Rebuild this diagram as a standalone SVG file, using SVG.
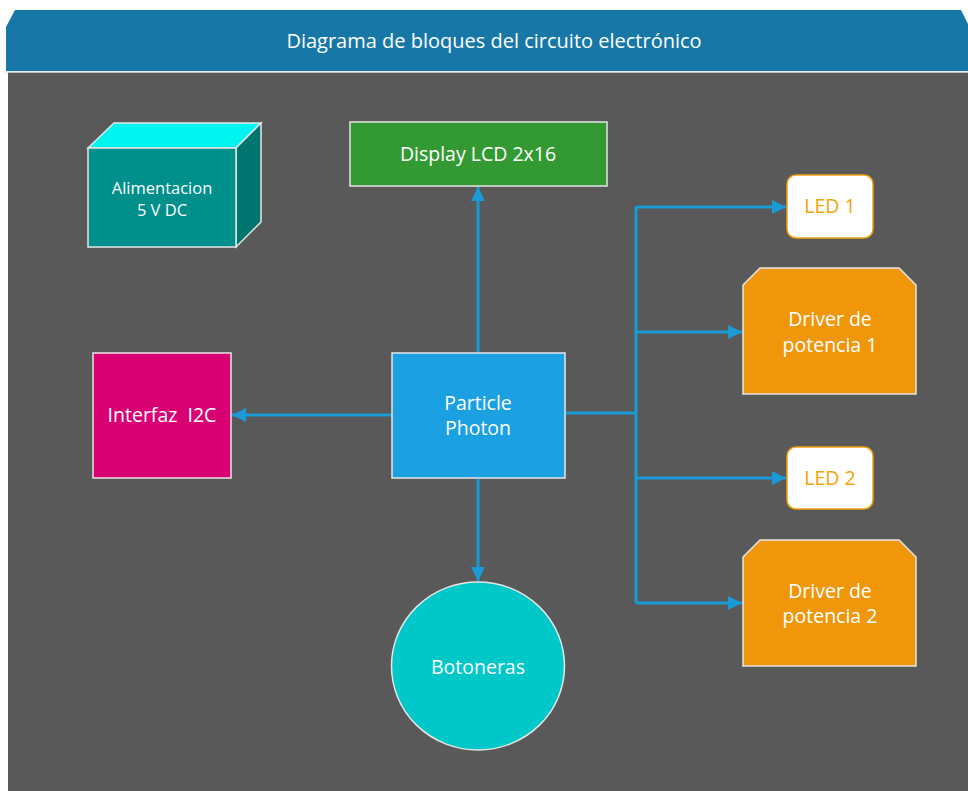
<svg xmlns="http://www.w3.org/2000/svg" width="968" height="791" viewBox="0 0 968 791">
<defs>
<style>
text{font-family:"Open Sans","Noto Sans","DejaVu Sans",sans-serif;fill:#ffffff;text-anchor:middle;dominant-baseline:central}
.node{stroke:#e6e6e6;stroke-width:1.5}
.conn{fill:none;stroke:#1b9ad8;stroke-width:3}
.lbl{font-size:19.5px}
.led{fill:#ffffff;stroke:#f0a30a;stroke-width:1.5}
.ledt{fill:#f0a30a;font-size:19.5px}
.drv{fill:#f0960a}
</style>
<marker id="arr" markerUnits="userSpaceOnUse" markerWidth="16" markerHeight="14" refX="14" refY="7" orient="auto">
<path d="M0,0 L14,7 L0,14 Z" fill="#1b9ad8"/>
</marker>
</defs>
<rect x="0" y="0" width="968" height="791" fill="#ffffff"/>
<rect x="8" y="72" width="960" height="719" fill="#595959"/>
<g id="header">
<path d="M15,10 L961,10 L968,24 L968,71 L6,71 L6,27 Z" fill="#1778a8"/>
<line x1="6" y1="72" x2="968" y2="72" stroke="#d8e8f0" stroke-width="1.5"/>
<text x="494" y="40" font-size="20">Diagrama de bloques del circuito electrónico</text>
</g>
<g id="connectors">
<line class="conn" x1="478" y1="352" x2="478" y2="187" marker-end="url(#arr)"/>
<line class="conn" x1="392" y1="415" x2="232" y2="415" marker-end="url(#arr)"/>
<line class="conn" x1="478" y1="479" x2="478" y2="581" marker-end="url(#arr)"/>
<polyline class="conn" points="566,413 636,413"/>
<line class="conn" x1="636" y1="207" x2="636" y2="603"/>
<line class="conn" x1="636" y1="207" x2="786" y2="207" marker-end="url(#arr)"/>
<line class="conn" x1="636" y1="332" x2="742" y2="332" marker-end="url(#arr)"/>
<line class="conn" x1="636" y1="478" x2="786" y2="478" marker-end="url(#arr)"/>
<line class="conn" x1="636" y1="603" x2="742" y2="603" marker-end="url(#arr)"/>
</g>
<g id="alimentacion">
<path class="node" d="M88,148 L114,123 L261,123 L236,148 Z" fill="#00f5f0"/>
<path class="node" d="M236,148 L261,123 L261,222 L236,247 Z" fill="#00756f"/>
<rect class="node" x="88" y="148" width="148" height="99" fill="#008f8a"/>
<text x="162" y="187" font-size="16.5">Alimentacion</text>
<text x="162" y="209" font-size="16.5">5 V DC</text>
</g>
<g id="display">
<rect class="node" x="350" y="122" width="257" height="64" fill="#339a33"/>
<text class="lbl" x="478" y="153">Display LCD 2x16</text>
</g>
<g id="photon">
<rect class="node" x="392" y="353" width="173" height="125" fill="#1ba1e2"/>
<text class="lbl" x="478" y="402">Particle</text>
<text class="lbl" x="478" y="427">Photon</text>
</g>
<g id="i2c">
<rect class="node" x="93" y="353" width="138" height="125" fill="#d80073"/>
<text class="lbl" x="162" y="414" xml:space="preserve">Interfaz  I2C</text>
</g>
<g id="botoneras">
<ellipse class="node" cx="478" cy="666" rx="86.5" ry="84" fill="#00c8c8"/>
<text class="lbl" x="478" y="666">Botoneras</text>
</g>
<g id="led1">
<rect class="led" x="787" y="175" width="86" height="63" rx="9"/>
<text class="ledt" x="830" y="205">LED 1</text>
</g>
<g id="driver1">
<path class="node drv" d="M760,268 L899,268 L916,285 L916,394 L743,394 L743,285 Z"/>
<text class="lbl" x="830" y="318">Driver de</text>
<text class="lbl" x="830" y="344">potencia 1</text>
</g>
<g id="led2">
<rect class="led" x="787" y="447" width="86" height="62" rx="9"/>
<text class="ledt" x="830" y="477">LED 2</text>
</g>
<g id="driver2">
<path class="node drv" d="M760,540 L899,540 L916,557 L916,666 L743,666 L743,557 Z"/>
<text class="lbl" x="830" y="590">Driver de</text>
<text class="lbl" x="830" y="615">potencia 2</text>
</g>
</svg>
